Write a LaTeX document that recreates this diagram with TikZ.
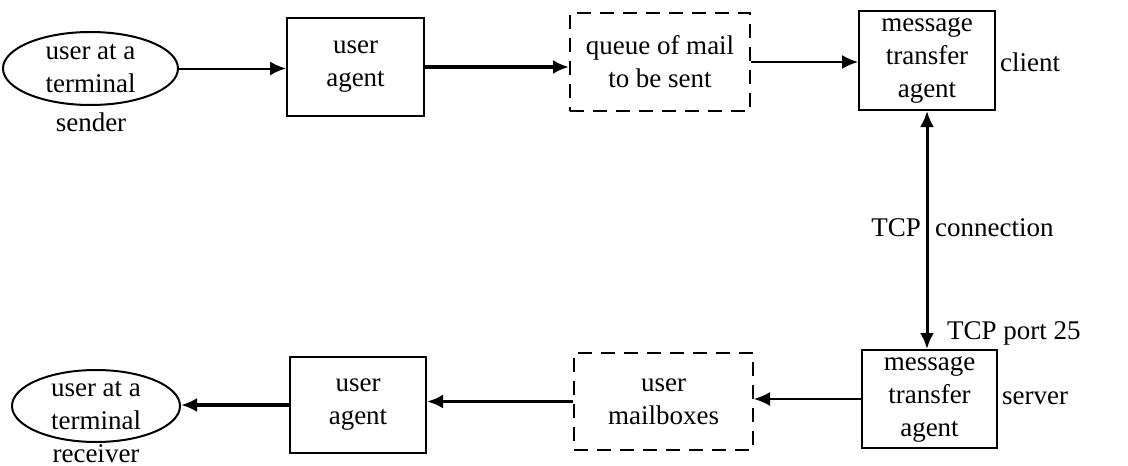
\documentclass[tikz,border=0pt]{standalone}
\usepackage{fontspec}
\setmainfont{Liberation Serif}
\usetikzlibrary{shapes.geometric,arrows.meta}
\begin{document}
\begin{tikzpicture}[x=1pt,y=-1pt,
  every node/.style={font=\fontsize{27}{33}\selectfont, inner sep=0pt, align=center},
  agentbox/.style={draw, line width=2pt},
  storebox/.style={draw, line width=2pt, dash pattern=on 14pt off 9pt},
  userell/.style={draw, ellipse, line width=2pt},
  flow/.style={line width=2pt, -{Latex[length=16pt,width=14pt]}},
  thickflow/.style={line width=3.5pt, -{Latex[length=16pt,width=14pt]}},
  lbl/.style={}]
\useasboundingbox (0,0) rectangle (1128,466);
% top row
\node[userell, minimum width=175pt, minimum height=73pt] (ell1) at (90.5,68.5) {user at a\\terminal};
\node[lbl] (snd) at (91,122) {sender};
\node[agentbox, minimum width=137pt, minimum height=98pt] (ua1) at (355.5,67) {user\\agent};
\node[storebox, minimum width=180pt, minimum height=98pt] (queue) at (660,62) {queue of mail\\to be sent};
\node[agentbox, minimum width=136pt, minimum height=99pt] (mta1) at (927,60.5) {message\\transfer\\agent};
\node[lbl, anchor=west] (cli) at (1000,62) {client};
% bottom row
\node[agentbox, minimum width=135pt, minimum height=98pt] (mta2) at (929.5,399) {message\\transfer\\agent};
\node[lbl, anchor=west] (srv) at (1002,398) {server};
\node[storebox, minimum width=179pt, minimum height=97pt] (mbox) at (663.5,401.5) {user\\mailboxes};
\node[agentbox, minimum width=136pt, minimum height=96pt] (ua2) at (358,405) {user\\agent};
\node[userell, minimum width=168pt, minimum height=72pt] (ell2) at (96,406) {user at a\\terminal};
\node[lbl, anchor=base] (rcv) at (96,462) {receiver};
% TCP labels
\node[lbl, anchor=east] (tcp) at (921,228) {TCP};
\node[lbl, anchor=west] (conn) at (935,228) {connection};
\node[lbl, anchor=west] (port) at (947,333) {TCP port 25};
% connectors
\draw[flow] (ell1.east) -- (ell1.east -| ua1.west);
\draw[thickflow] (ua1.east) -- (ua1.east -| queue.west);
\draw[flow] (queue.east) -- (queue.east -| mta1.west);
\draw[line width=3pt, {Latex[length=16pt,width=14pt]}-{Latex[length=16pt,width=14pt]}] (mta1.south) -- (mta1.south |- mta2.north);
\draw[flow] (mta2.west) -- (mta2.west -| mbox.east);
\draw[thickflow] (mbox.west) -- (mbox.west -| ua2.east);
\draw[thickflow] (ua2.west) -- (ua2.west -| ell2.east);
\end{tikzpicture}
\end{document}
